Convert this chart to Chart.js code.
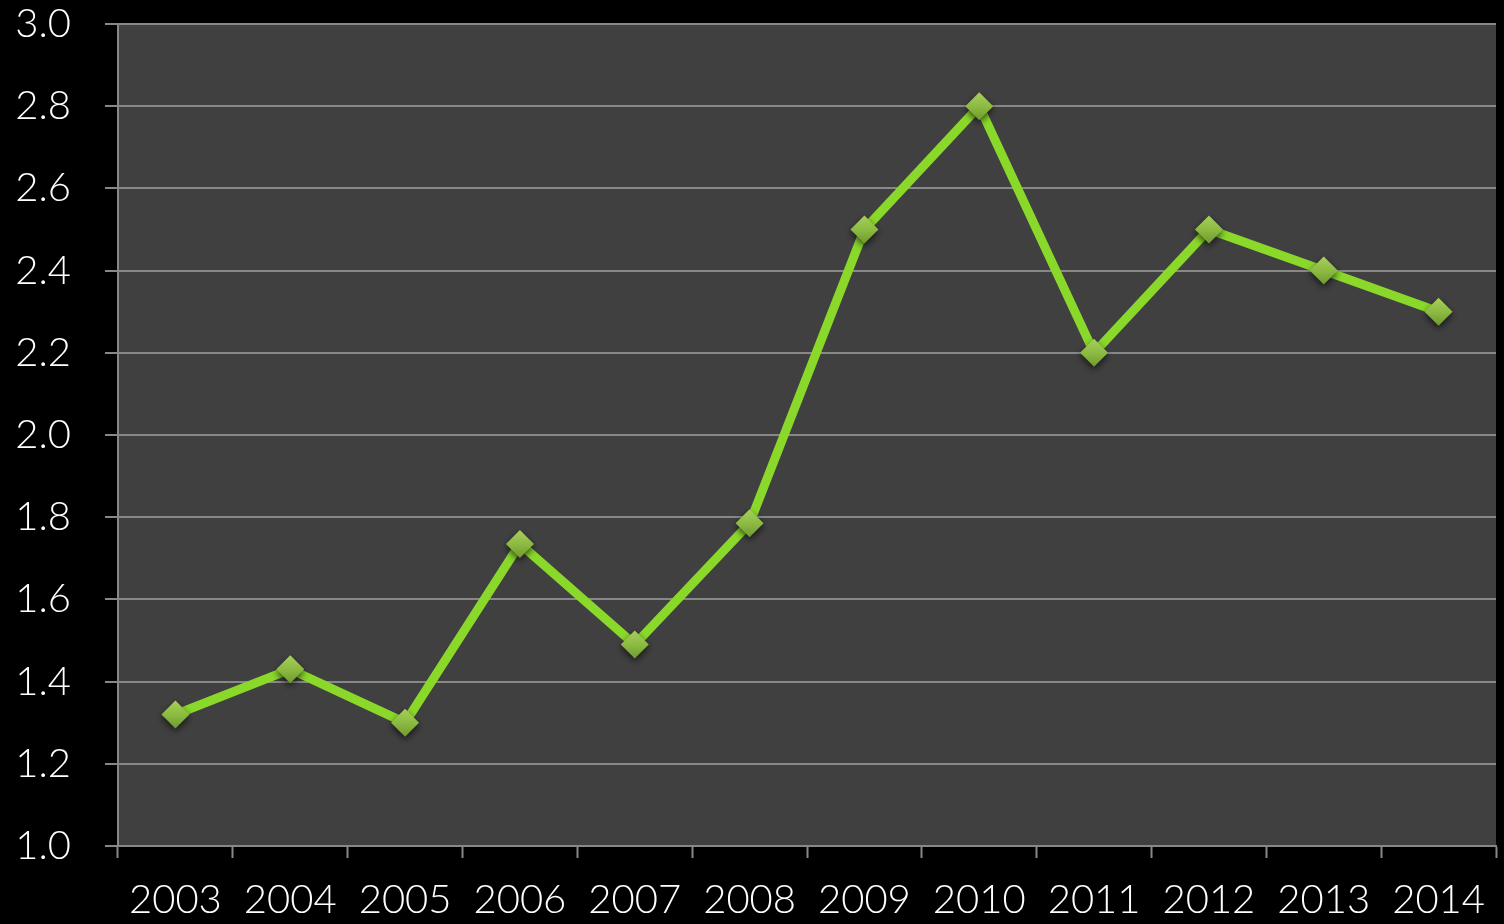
<!DOCTYPE html>
<html>
<head>
<meta charset="utf-8">
<script src="https://cdn.jsdelivr.net/npm/chart.js@4/dist/chart.umd.min.js"></script>
<style>
  html, body { margin: 0; padding: 0; background: #000; }
  #wrap { width: 1504px; height: 924px; }
</style>
</head>
<body>
<div id="wrap"><canvas id="chart"></canvas></div>
<script>
// chart data
const years = ['2003', '2004', '2005', '2006', '2007', '2008', '2009', '2010', '2011', '2012', '2013', '2014'];
const values = [1.32, 1.43, 1.30, 1.735, 1.49, 1.785, 2.50, 2.80, 2.20, 2.50, 2.40, 2.30];
const yMin = 1.0;
const yMax = 3.0;
const yStep = 0.2;

const labelFont = { family: 'Lato, "DejaVu Sans", sans-serif', size: 40, weight: 300 };

// dark plot background
const plotBg = {
    id: 'plotBg',
    beforeDraw(chart) {
        const { ctx, chartArea: a } = chart;
        ctx.save();
        ctx.fillStyle = '#404040';
        ctx.fillRect(a.left, a.top, a.right - a.left, a.bottom - a.top);
        ctx.restore();
    }
};

// diamond markers with a soft shadow
const markerShadow = {
    id: 'markerShadow',
    afterDatasetsDraw(chart) {
        const { ctx } = chart;
        const meta = chart.getDatasetMeta(0);
        ctx.save();
        meta.data.forEach(pt => {
            const r = 14;
            ctx.shadowColor = 'rgba(0,0,0,0.65)';
            ctx.shadowBlur = 7;
            ctx.shadowOffsetY = 3;
            const g = ctx.createLinearGradient(pt.x, pt.y - r, pt.x, pt.y + r);
            g.addColorStop(0, '#a6cf5a');
            g.addColorStop(0.5, '#8dbb42');
            g.addColorStop(1, '#6e9a2e');
            ctx.fillStyle = g;
            ctx.beginPath();
            ctx.moveTo(pt.x, pt.y - r);
            ctx.lineTo(pt.x + r, pt.y);
            ctx.lineTo(pt.x, pt.y + r);
            ctx.lineTo(pt.x - r, pt.y);
            ctx.closePath();
            ctx.fill();
        });
        ctx.restore();
    }
};

new Chart(document.getElementById('chart'), {
    type: 'line',
    data: {
        labels: years,
        datasets: [{
            data: values,
            borderColor: '#8ad92a',
            borderWidth: 9,
            pointRadius: 0,
            pointHoverRadius: 0,
            tension: 0
        }]
    },
    options: {
        responsive: true,
        maintainAspectRatio: false,
        animation: false,
        layout: { padding: { top: 24, right: 8, left: 0, bottom: 0 } },
        plugins: {
            legend: { display: false },
            tooltip: { enabled: false }
        },
        scales: {
            x: {
                offset: true,
                grid: {
                    offset: true,
                    drawOnChartArea: false,
                    drawTicks: true,
                    tickLength: 12,
                    tickWidth: 2,
                    color: '#888888'
                },
                border: { color: '#888888', width: 2 },
                ticks: {
                    color: '#ffffff',
                    font: labelFont,
                    padding: 18,
                    maxRotation: 0,
                    autoSkip: false
                },
                afterFit(scale) {
                    scale.height = 78;
                    scale.paddingLeft = 0;
                    scale.paddingRight = 0;
                }
            },
            y: {
                min: yMin,
                max: yMax,
                grid: {
                    color: '#888888',
                    lineWidth: 2,
                    tickLength: 13
                },
                border: { color: '#888888', width: 2 },
                ticks: {
                    stepSize: yStep,
                    color: '#ffffff',
                    font: labelFont,
                    padding: 34,
                    callback: v => v.toFixed(1)
                },
                afterFit(scale) {
                    scale.width = 118;
                    scale.paddingTop = 0;
                    scale.paddingBottom = 0;
                }
            }
        }
    },
    plugins: [plotBg, markerShadow]
});
</script>
</body>
</html>
